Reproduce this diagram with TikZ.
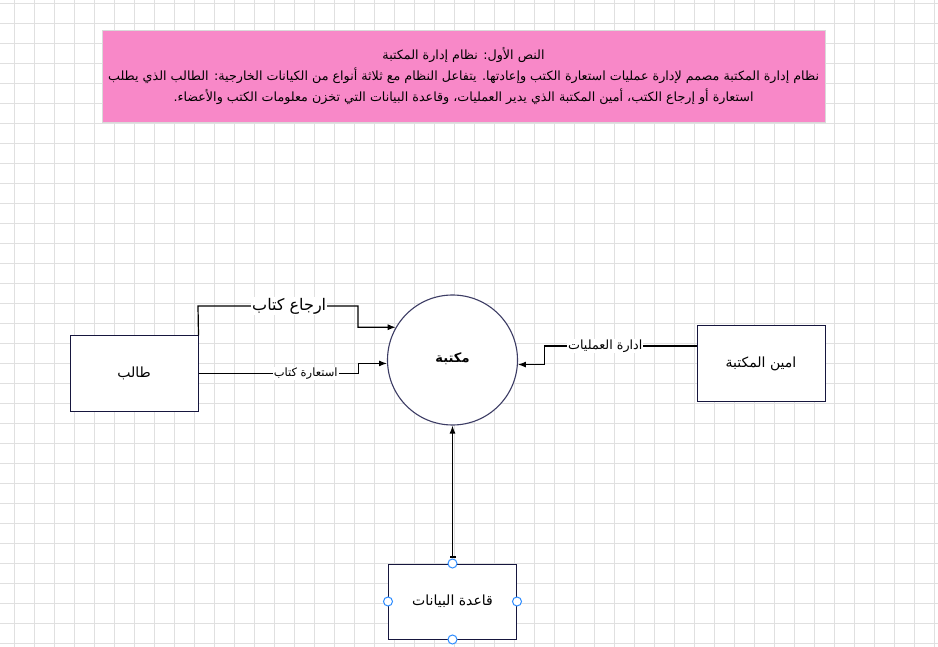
\documentclass[tikz,border=0pt]{standalone}
\usepackage{fontspec}
\newfontfamily\arabicfont[Script=Arabic]{DejaVu Sans}
\TeXXeTstate=1
\usetikzlibrary{arrows.meta}
\definecolor{notepink}{RGB}{248,136,200}
\definecolor{boxline}{RGB}{22,22,62}
\definecolor{ringline}{RGB}{60,60,100}
\definecolor{handleblue}{RGB}{45,140,255}
\tikzset{
	gridline/.style={black!12, line width=0.8pt},
	entity/.style={draw=boxline, line width=1pt, fill=white, minimum width=128pt, minimum height=75pt, font=\arabicfont\fontsize{14}{17}\selectfont},
	process/.style={circle, draw=ringline, line width=1.1pt, fill=white, minimum size=130pt, inner sep=0pt, font=\arabicfont\bfseries\fontsize{13}{16}\selectfont},
	flow/.style={-{Latex[length=8pt, width=6pt]}, line width=1.2pt},
	flowlabel/.style={fill=white, inner sep=1pt, font=\arabicfont\fontsize{11.5}{13}\selectfont},
	handle/.style={circle, draw=handleblue, fill=white, minimum size=9pt, inner sep=0pt, line width=1pt}
}
\begin{document}
\begin{tikzpicture}[x=1pt, y=-1pt]

		\useasboundingbox (0,0) rectangle (938,647);
		\fill[white] (0,0) rectangle (938,647);

		% background grid
		\foreach \gx in {14,34,...,934} \draw[gridline] (\gx,0)--(\gx,647);
		\foreach \gy in {3,23,...,643} \draw[gridline] (0,\gy)--(938,\gy);

		% note
		\node[fill=notepink, draw=black!15, minimum width=723pt, minimum height=92pt, align=center, font=\arabicfont\fontsize{12.7}{21}\selectfont] (note) at (463.5,76) {\beginR النص الأول: نظام إدارة المكتبة\endR\\ \beginR نظام إدارة المكتبة مصمم لإدارة عمليات استعارة الكتب وإعادتها. يتفاعل النظام مع ثلاثة أنواع من الكيانات الخارجية: الطالب الذي يطلب\endR\\ \beginR استعارة أو إرجاع الكتب، أمين المكتبة الذي يدير العمليات، وقاعدة البيانات التي تخزن معلومات الكتب والأعضاء.\endR};

		% entities
		\node[process] (library) at (452.5,360) {\raisebox{5pt}{\beginR مكتبة\endR}};
		\node[entity] (student) at (134,373.5) {\beginR طالب\endR};
		\node[entity] (librarian) at (761,363.5) {\beginR امين المكتبة\endR};
		\node[entity] (database) at (452.5,601.5) {\beginR قاعدة البيانات\endR};

		% flows
		\draw[flow] (student.north east)--(198,306)--node[flowlabel, pos=0.57, font=\arabicfont\fontsize{16}{18}\selectfont]{\beginR ارجاع كتاب\endR} (358,306) |- (library.150.5);
		\draw[flow] (student.east)--node[flowlabel, pos=0.67]{\beginR استعارة كتاب\endR} ++(160,0) |- (library.183.5);
		\draw[flow] ([yshift=17.5pt]librarian.west)--node[flowlabel, pos=0.6, font=\arabicfont\fontsize{12.7}{14}\selectfont]{\beginR ادارة العمليات\endR} ++(-152,0) |- (library.356.5);
		\draw[{Bar[width=6pt]}-{Latex[length=8pt, width=6pt]}, line width=1.2pt] ([yshift=6pt]database.north)--(library.south);

		% selection handles
		\foreach \side in {north,south,east,west}
			\node[handle] (h-\side) at (database.\side) {};

	\end{tikzpicture}
\end{document}
